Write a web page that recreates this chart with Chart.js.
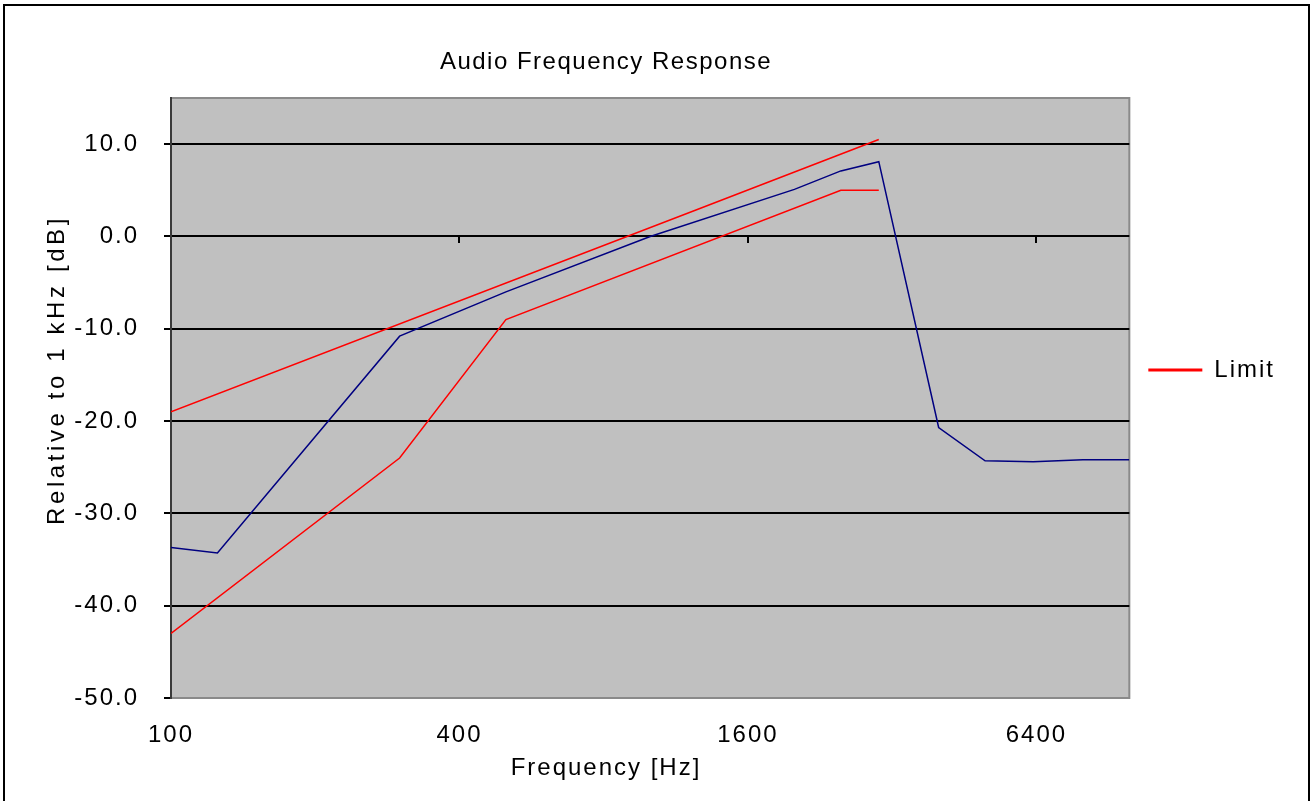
<!DOCTYPE html>
<html>
<head>
<meta charset="utf-8">
<title>Audio Frequency Response</title>
<script src="https://cdn.jsdelivr.net/npm/chart.js@4.4.1/dist/chart.umd.min.js"></script>
<style>
  html, body { margin: 0; padding: 0; background: #fff; overflow: hidden; }
  #frame { position: absolute; left: 3px; top: 4px; width: 1307px; height: 830px; border: 2px solid #000; box-sizing: border-box; }
  #wrap { position: absolute; left: 0; top: 0; width: 1315px; height: 801px; }
</style>
</head>
<body>
<div id="frame"></div>
<div id="wrap"><canvas id="afr"></canvas></div>
<script>
// measured response, relative to 1 kHz
const freqMeasured = [100, 125, 300, 500, 1000, 2000, 2500, 3000, 4000, 5000, 6300, 8000, 10000];
const levelMeasured = [-33.7, -34.3, -10.8, -6.0, 0.0, 5.1, 7.1, 8.1, -20.7, -24.3, -24.4, -24.2, -24.2];

// limit mask
const freqUpper = [100, 1250, 3000];
const levelUpper = [-19.0, 2.9, 10.5];
const freqLower = [100, 300, 500, 2500, 3000];
const levelLower = [-43.0, -24.0, -9.0, 5.0, 5.0];

const xTicks = [100, 400, 1600, 6400];
const yTicks = [-50, -40, -30, -20, -10, 0, 10];

const FONT = "'Liberation Sans', Arial, sans-serif";

const toPoints = (xs, ys) => xs.map((f, i) => ({ x: f, y: ys[i] }));

// plot background, frame and the hand-placed titles
const excelLook = {
  id: "excelLook",
  beforeDraw(chart) {
    const { ctx, chartArea: a } = chart;
    ctx.save();
    ctx.fillStyle = "#c0c0c0";
    ctx.fillRect(a.left, a.top, a.width, a.height);
    ctx.strokeStyle = "#8a8a8a";
    ctx.lineWidth = 2;
    ctx.strokeRect(a.left, a.top, a.width, a.height);
    ctx.restore();
    ctx.letterSpacing = "2px";
  },
  afterDraw(chart) {
    const { ctx } = chart;
    ctx.letterSpacing = "0px";
    const put = (text, x, y, spacing, rot) => {
      ctx.save();
      ctx.font = "24px " + FONT;
      ctx.fillStyle = "#000";
      ctx.textAlign = "center";
      ctx.textBaseline = "middle";
      ctx.letterSpacing = spacing + "px";
      ctx.translate(x, y);
      if (rot) ctx.rotate(rot);
      ctx.fillText(text, 0, 0);
      ctx.restore();
    };
    put("Audio Frequency Response", 606, 62, 1.5, 0);
    put("Frequency [Hz]", 606, 768, 2, 0);
    put("Relative to 1 kHz [dB]", 57, 370, 3.6, -Math.PI / 2);
  }
};

new Chart(document.getElementById("afr"), {
  type: "line",
  data: {
    datasets: [
      {
        label: "Measured",
        data: toPoints(freqMeasured, levelMeasured),
        borderColor: "#000080",
        borderWidth: 1.5,
        pointRadius: 0,
        xAxisID: "x",
        yAxisID: "y"
      },
      {
        label: "Limit",
        data: toPoints(freqUpper, levelUpper),
        borderColor: "#ff0000",
        backgroundColor: "#ff0000",
        borderWidth: 1.5,
        pointRadius: 0,
        xAxisID: "x",
        yAxisID: "y"
      },
      {
        label: "Limit (lower)",
        data: toPoints(freqLower, levelLower),
        borderColor: "#ff0000",
        borderWidth: 1.5,
        pointRadius: 0,
        xAxisID: "x",
        yAxisID: "y"
      }
    ]
  },
  options: {
    responsive: true,
    maintainAspectRatio: false,
    animation: false,
    layout: { padding: { left: 0, right: 40, top: 98, bottom: 0 } },
    scales: {
      x: {
        type: "logarithmic",
        position: "bottom",
        min: 100,
        max: 10000,
        afterBuildTicks: (s) => { s.ticks = xTicks.map((v) => ({ value: v })); },
        afterFit: (s) => { s.height = 103; },
        ticks: {
          autoSkip: false,
          maxRotation: 0,
          padding: 15,
          color: "#000",
          font: { family: FONT, size: 24 },
          callback: (v) => String(v)
        },
        grid: { display: false },
        border: { display: false }
      },
      // tick marks on the 0 dB line, where the Excel category axis crosses
      xZero: {
        type: "logarithmic",
        axis: "x",
        position: { y: 0 },
        min: 100,
        max: 10000,
        afterBuildTicks: (s) => { s.ticks = xTicks.map((v) => ({ value: v })); },
        ticks: { display: false },
        grid: { drawOnChartArea: false, tickLength: 7, color: "#000", lineWidth: 2 },
        border: { display: false }
      },
      y: {
        min: -50,
        max: 15,
        afterBuildTicks: (s) => { s.ticks = yTicks.map((v) => ({ value: v })); },
        afterFit: (s) => { s.width = 171; },
        ticks: {
          padding: 25,
          color: "#000",
          font: { family: FONT, size: 24 },
          callback: (v) => v.toFixed(1)
        },
        grid: {
          color: (c) => (c.tick && c.tick.value === -50 ? "#8a8a8a" : "#000"),
          lineWidth: 2,
          tickLength: 7,
          tickColor: "#000"
        },
        border: { color: "#3a3a3a", width: 2 }
      }
    },
    plugins: {
      title: { display: false },
      tooltip: { enabled: false },
      legend: {
        position: "right",
        align: "start",
        title: { display: true, text: "", font: { size: 10 }, padding: { top: 229, bottom: 0 } },
        labels: {
          boxWidth: 54,
          boxHeight: 3,
          padding: 19,
          color: "#000",
          font: { family: FONT, size: 24 },
          filter: (item) => item.text === "Limit",
          generateLabels: (chart) => chart.data.datasets.map((ds, i) => ({
            text: ds.label,
            fillStyle: ds.borderColor,
            strokeStyle: ds.borderColor,
            fontColor: "#000",
            lineWidth: 0,
            datasetIndex: i,
            hidden: false
          }))
        }
      }
    }
  },
  plugins: [excelLook]
});
</script>
</body>
</html>
